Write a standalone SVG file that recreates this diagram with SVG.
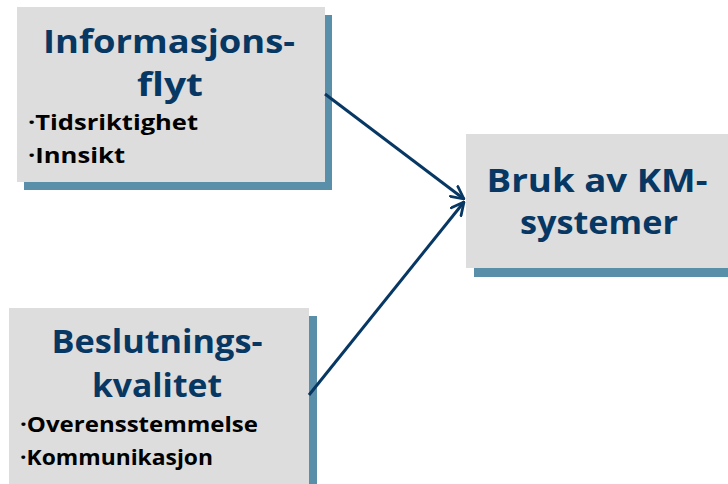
<svg xmlns="http://www.w3.org/2000/svg" width="728" height="484" viewBox="0 0 728 484">
  <defs>
    <style>
      .box { fill: #dddddd; }
      .shadow { fill: #5a8fa9; }
      .title { font-family: "Open Sans", "DejaVu Sans", sans-serif; font-weight: bold; font-size: 33px; fill: #073763; text-anchor: middle; }
      .item { font-family: "Open Sans", "DejaVu Sans", sans-serif; font-weight: bold; font-size: 21px; fill: #000000; }
      .link { stroke: #073763; stroke-width: 3; fill: none; marker-end: url(#arrow); }
    </style>
    <marker id="arrow" viewBox="0 0 12 12" refX="11" refY="6" markerWidth="5" markerHeight="5" orient="auto" markerUnits="strokeWidth">
      <path d="M1,1 L11,6 L1,11" fill="none" stroke="#073763" stroke-width="2.2" stroke-linecap="round" stroke-linejoin="round"/>
    </marker>
  </defs>

  <rect width="728" height="484" fill="#ffffff"/>

  <g id="informasjonsflyt">
    <rect class="shadow" x="24" y="15" width="308" height="175"/>
    <rect class="box" x="17" y="7" width="308" height="175"/>
    <text class="title" x="169" y="53" textLength="252" lengthAdjust="spacingAndGlyphs">Informasjons-</text>
    <text class="title" x="170" y="96" textLength="66" lengthAdjust="spacingAndGlyphs">flyt</text>
    <text class="item" x="28" y="130" textLength="170" lengthAdjust="spacingAndGlyphs">·Tidsriktighet</text>
    <text class="item" x="28" y="163" textLength="97" lengthAdjust="spacingAndGlyphs">·Innsikt</text>
  </g>

  <g id="beslutningskvalitet">
    <rect class="shadow" x="17" y="316" width="300" height="175"/>
    <rect class="box" x="9" y="308" width="300" height="176"/>
    <text class="title" x="157" y="353" textLength="211" lengthAdjust="spacingAndGlyphs">Beslutnings-</text>
    <text class="title" x="157" y="397" textLength="130" lengthAdjust="spacingAndGlyphs">kvalitet</text>
    <text class="item" x="20" y="432" textLength="238" lengthAdjust="spacingAndGlyphs">·Overensstemmelse</text>
    <text class="item" x="20" y="465" textLength="193" lengthAdjust="spacingAndGlyphs">·Kommunikasjon</text>
  </g>

  <g id="bruk-av-km-systemer">
    <rect class="shadow" x="474" y="142" width="260" height="135"/>
    <rect class="box" x="466" y="134" width="266" height="134"/>
    <text class="title" x="597" y="192" textLength="221" lengthAdjust="spacingAndGlyphs">Bruk av KM-</text>
    <text class="title" x="599" y="234" textLength="158" lengthAdjust="spacingAndGlyphs">systemer</text>
  </g>

  <g id="connectors">
    <line class="link" x1="325" y1="94" x2="464" y2="199"/>
    <line class="link" x1="309" y1="395" x2="464" y2="202"/>
  </g>
</svg>
